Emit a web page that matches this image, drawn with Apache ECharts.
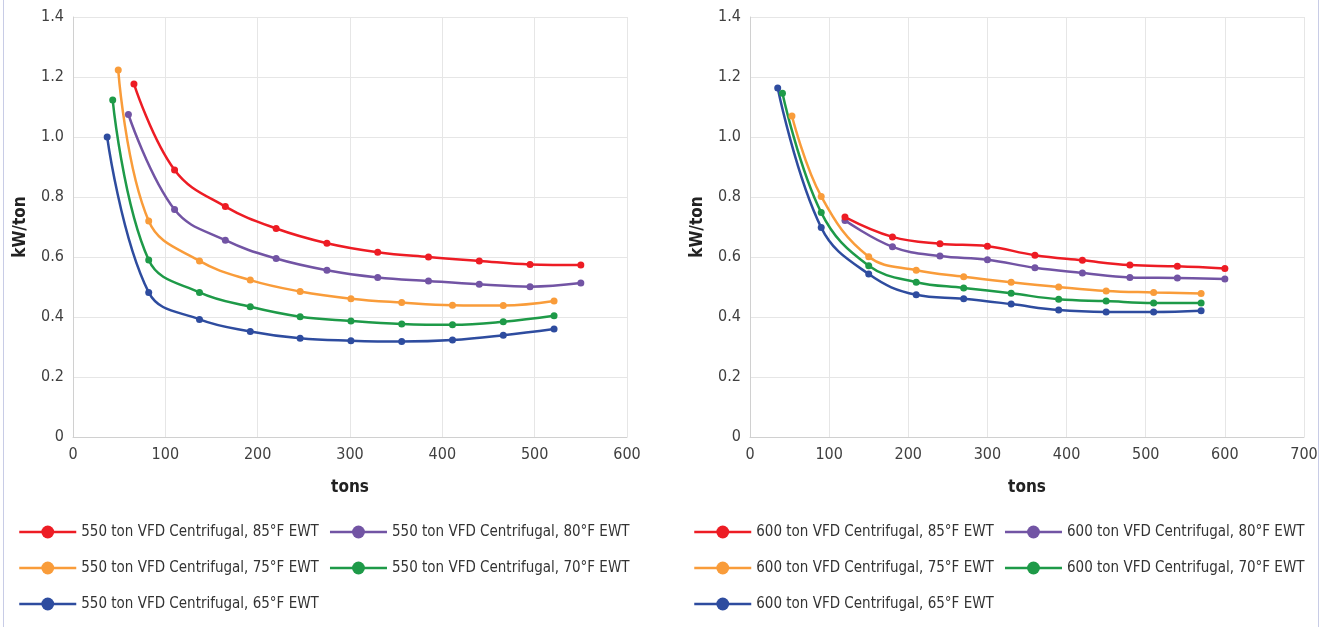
<!DOCTYPE html>
<html>
<head>
<meta charset="utf-8">
<script src="https://cdn.jsdelivr.net/npm/echarts@6/dist/echarts.min.js"></script>
<style>
  html, body { margin: 0; padding: 0; background: #fff; }
  #chart { width: 1321px; height: 627px; position: relative; }
  .edge { position: absolute; top: 0; bottom: 0; width: 1px; background: #c8cce6; }
</style>
</head>
<body>
<div id="chart"></div>
<div class="edge" style="left:3px"></div>
<div class="edge" style="left:1318px"></div>
<script>
// 550 ton chiller (left chart)
const names550 = [
  '550 ton VFD Centrifugal, 85°F EWT',
  '550 ton VFD Centrifugal, 80°F EWT',
  '550 ton VFD Centrifugal, 75°F EWT',
  '550 ton VFD Centrifugal, 70°F EWT',
  '550 ton VFD Centrifugal, 65°F EWT'
];
const tons550_85 = [66, 110, 165, 220, 275, 330, 385, 440, 495, 550];
const kw550_85 = [1.177, 0.89, 0.768, 0.695, 0.646, 0.616, 0.6, 0.587, 0.575, 0.573];
const tons550_80 = [60, 110, 165, 220, 275, 330, 385, 440, 495, 550];
const kw550_80 = [1.075, 0.758, 0.656, 0.595, 0.556, 0.532, 0.52, 0.509, 0.501, 0.513];
const tons550_75 = [49, 82, 137, 192, 246, 301, 356, 411, 466, 521];
const kw550_75 = [1.223, 0.72, 0.587, 0.523, 0.485, 0.461, 0.448, 0.439, 0.438, 0.453];
const tons550_70 = [43, 82, 137, 192, 246, 301, 356, 411, 466, 521];
const kw550_70 = [1.123, 0.59, 0.482, 0.434, 0.401, 0.387, 0.377, 0.374, 0.384, 0.404];
const tons550_65 = [37, 82, 137, 192, 246, 301, 356, 411, 466, 521];
const kw550_65 = [1.0, 0.482, 0.392, 0.352, 0.329, 0.321, 0.318, 0.323, 0.339, 0.36];

// 600 ton chiller (right chart)
const names600 = [
  '600 ton VFD Centrifugal, 85°F EWT',
  '600 ton VFD Centrifugal, 80°F EWT',
  '600 ton VFD Centrifugal, 75°F EWT',
  '600 ton VFD Centrifugal, 70°F EWT',
  '600 ton VFD Centrifugal, 65°F EWT'
];
const tons600_85 = [120, 180, 240, 300, 360, 420, 480, 540, 600];
const kw600_85 = [0.733, 0.667, 0.644, 0.636, 0.606, 0.589, 0.573, 0.569, 0.562];
const tons600_80 = [120, 180, 240, 300, 360, 420, 480, 540, 600];
const kw600_80 = [0.722, 0.634, 0.603, 0.591, 0.564, 0.547, 0.532, 0.53, 0.527];
const tons600_75 = [53, 90, 150, 210, 270, 330, 390, 450, 510, 570];
const kw600_75 = [1.07, 0.802, 0.601, 0.556, 0.534, 0.516, 0.5, 0.487, 0.482, 0.478];
const tons600_70 = [41, 90, 150, 210, 270, 330, 390, 450, 510, 570];
const kw600_70 = [1.146, 0.748, 0.571, 0.516, 0.497, 0.479, 0.459, 0.453, 0.447, 0.447];
const tons600_65 = [35, 90, 150, 210, 270, 330, 390, 450, 510, 570];
const kw600_65 = [1.163, 0.698, 0.543, 0.474, 0.461, 0.443, 0.423, 0.417, 0.417, 0.421];

const colors = ['#ed1c24', '#7254a4', '#f99c3a', '#1e9a48', '#2e4c9f'];
const FONT = "'DejaVu Sans Condensed', 'Liberation Sans Narrow', sans-serif";

const zip = (xs, ys) => xs.map((x, i) => [x, ys[i]]);

function makeSeries(names, pairs, idx) {
  return names.map((name, i) => ({
    name: name,
    type: 'line',
    xAxisIndex: idx,
    yAxisIndex: idx,
    data: zip(pairs[i][0], pairs[i][1]),
    smooth: 0.4,
    symbol: 'circle',
    symbolSize: 7,
    lineStyle: { width: 2.5, color: colors[i] },
    itemStyle: { color: colors[i] },
    z: 10 - i
  }));
}

function xAxisOpt(idx, max) {
  return {
    type: 'value', gridIndex: idx, min: 0, max: max, interval: 100,
    name: 'tons', nameLocation: 'middle', nameGap: 42,
    nameTextStyle: { fontFamily: FONT, fontSize: 17, fontWeight: 'bold', color: '#222' },
    axisLine: { lineStyle: { color: '#d0d0d0' } },
    axisTick: { show: false },
    axisLabel: { fontFamily: FONT, fontSize: 16, color: '#404040', margin: 10 },
    splitLine: { lineStyle: { color: '#e6e6e6' } }
  };
}

function yAxisOpt(idx) {
  return {
    type: 'value', gridIndex: idx, min: 0, max: 1.4, interval: 0.2,
    name: 'kW/ton', nameLocation: 'middle', nameGap: 44, nameRotate: 90,
    nameTextStyle: { fontFamily: FONT, fontSize: 17, fontWeight: 'bold', color: '#222' },
    axisLine: { show: true, lineStyle: { color: '#d0d0d0' } },
    axisTick: { show: false },
    axisLabel: {
      fontFamily: FONT, fontSize: 16, color: '#404040', margin: 9,
      formatter: v => (v === 0 ? '0' : v.toFixed(1))
    },
    splitLine: { lineStyle: { color: '#e6e6e6' } }
  };
}

function legendOpt(names, left) {
  return {
    data: names,
    left: left, top: 519, width: 620, padding: 0,
    itemWidth: 57, itemHeight: 16, itemGap: 10,
    lineStyle: { width: 2.5 },
    textStyle: { fontFamily: FONT, fontSize: 15, color: '#333', lineHeight: 26 }
  };
}

const myChart = echarts.init(document.getElementById('chart'));

const option = {
  animation: false,
  grid: [
    { left: 73, top: 17, width: 554, height: 420 },
    { left: 750, top: 17, width: 554, height: 420 }
  ],
  xAxis: [xAxisOpt(0, 600), xAxisOpt(1, 700)],
  yAxis: [yAxisOpt(0), yAxisOpt(1)],
  legend: [legendOpt(names550, 18), legendOpt(names600, 693)],
  series: [
    ...makeSeries(names550, [
      [tons550_85, kw550_85], [tons550_80, kw550_80], [tons550_75, kw550_75],
      [tons550_70, kw550_70], [tons550_65, kw550_65]
    ], 0),
    ...makeSeries(names600, [
      [tons600_85, kw600_85], [tons600_80, kw600_80], [tons600_75, kw600_75],
      [tons600_70, kw600_70], [tons600_65, kw600_65]
    ], 1)
  ]
};

myChart.setOption(option);
</script>
</body>
</html>
